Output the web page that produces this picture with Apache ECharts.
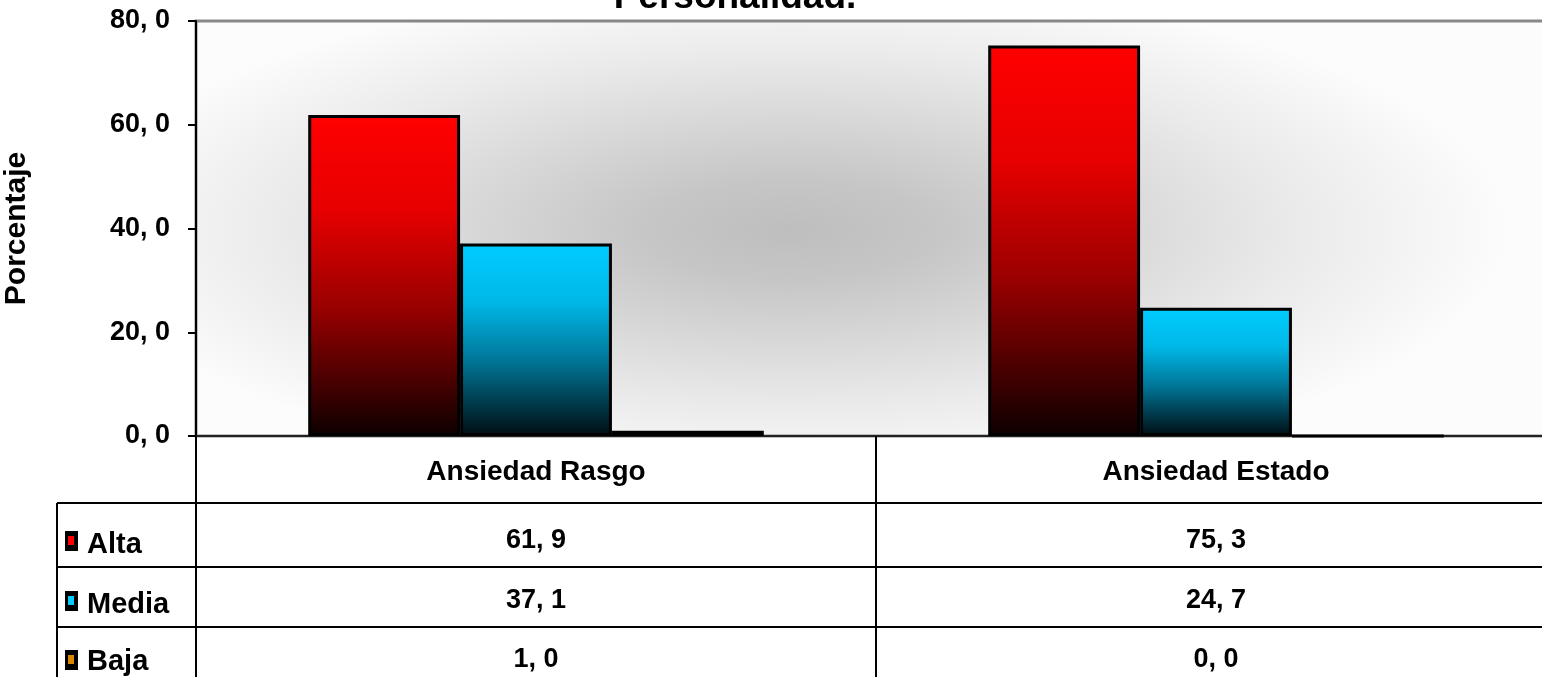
<!DOCTYPE html>
<html><head><meta charset="utf-8">
<script src="https://cdn.jsdelivr.net/npm/echarts@6/dist/echarts.min.js"></script>
<style>html,body{margin:0;padding:0;background:#fff}#c{width:1542px;height:677px}</style>
</head><body><div id="c"></div>
<script>
// ---- data ----
const titleText = 'Personalidad.';
const yAxisTitle = 'Porcentaje';
const categories = ['Ansiedad Rasgo', 'Ansiedad Estado'];
const seriesNames = ['Alta', 'Media', 'Baja'];
const alta = [61.9, 75.3];
const media = [37.1, 24.7];
const baja = [1.0, 0.0];
const yMin = 0, yMax = 80, yStep = 20;

// ---- layout / style ----
const FONT = "'Liberation Sans', Arial, sans-serif";
const GL = 196, GT = 21, GH = 415, GW = 1360;
const GB = GT + GH;
const rowOffsets = [67, 131, 191];
const rowMargins = [38, 34, 33];
const rowLabelY = [545, 605, 662];
const keyColors = ['#ff0000', '#00ccff', '#d98600'];
const seriesData = [alta, media, baja];

function fmt(v) { return v.toFixed(1).replace('.', ', '); }
function grad(stops) {
  return { type: 'linear', x: 0, y: 0, x2: 0, y2: 1,
    colorStops: stops.map(s => ({ offset: s[0], color: s[1] })) };
}
const fills = [
  grad([[0, '#ff0000'], [0.3, '#e60000'], [0.6, '#990000'], [1, '#0d0000']]),
  grad([[0, '#00ccff'], [0.3, '#00b8e8'], [0.6, '#00789a'], [1, '#000d12']]),
  grad([[0, '#ff9a00'], [0.5, '#a05a00'], [1, '#100800']])
];

const chart = echarts.init(document.getElementById('c'), null, { renderer: 'canvas' });

// background radial shading (elliptical via scaled rect)
const rx = 720, ry = 250, cx = 790, cy = 230;
const s = ry / rx;
const localW = 1542 - GL, localH = GH / s;
const minSide = Math.min(localW, localH);

const graphics = [
  { type: 'rect', x: GL, y: GT, scaleX: 1, scaleY: s, z: -5, silent: true,
    shape: { x: 0, y: 0, width: localW, height: localH },
    style: { fill: { type: 'radial', x: (cx - GL) / localW, y: (cy - GT) / GH, r: rx / minSide,
      colorStops: [
        { offset: 0, color: '#bebebe' }, { offset: 0.2, color: '#c6c6c6' },
        { offset: 0.45, color: '#d8d8d8' }, { offset: 0.7, color: '#eaeaea' },
        { offset: 1, color: '#fcfcfc' }] } } },
  { type: 'text', x: 735, y: 16, silent: true,
    style: { text: titleText, align: 'center', verticalAlign: 'bottom',
      font: "bold 37px " + FONT, fill: '#000' } },
  { type: 'line', silent: true, shape: { x1: 57, y1: GB + rowOffsets[0], x2: 57, y2: 677 },
    style: { stroke: '#000', lineWidth: 2 } }
];
seriesNames.forEach((name, i) => {
  const ly = GB + rowOffsets[i];
  graphics.push({ type: 'line', silent: true, shape: { x1: 57, y1: ly, x2: GL, y2: ly },
    style: { stroke: '#000', lineWidth: 2 } });
  const ky = ly + rowMargins[i];
  graphics.push({ type: 'rect', silent: true, shape: { x: 65, y: ky - 10, width: 13, height: 20 },
    style: { fill: '#000' } });
  graphics.push({ type: 'rect', silent: true, shape: { x: 68, y: ky - 5, width: 6, height: 9 },
    style: { fill: keyColors[i] } });
  graphics.push({ type: 'text', silent: true, x: 87, y: rowLabelY[i],
    style: { text: name, align: 'left', verticalAlign: 'middle', font: "bold 29px " + FONT, fill: '#000' } });
});

const labelStyle = { color: '#000', fontFamily: FONT, fontWeight: 'bold', fontSize: 27 };

const xAxes = [{
  type: 'category', data: categories, gridIndex: 0, position: 'bottom', offset: 0,
  axisLine: { show: true, lineStyle: { color: '#222', width: 2 } },
  axisTick: { show: true, interval: 0, length: 250, lineStyle: { color: '#000', width: 2 } },
  axisLabel: Object.assign({}, labelStyle, { interval: 0, margin: 36, verticalAlign: 'middle', fontSize: 28 }),
  splitLine: { show: false }
}];
seriesData.forEach((arr, i) => {
  xAxes.push({
    type: 'category', data: categories, gridIndex: 0, position: 'bottom', offset: rowOffsets[i],
    axisLine: { show: true, onZero: false, lineStyle: { color: '#000', width: 2 } },
    axisTick: { show: false },
    axisLabel: Object.assign({ interval: 0, margin: rowMargins[i], verticalAlign: 'middle',
      formatter: (v, idx) => fmt(arr[idx]) }, labelStyle),
    splitLine: { show: false }
  });
});

chart.setOption({
  animation: false,
  backgroundColor: '#fff',
  grid: { left: GL, top: GT, width: GW, height: GH, containLabel: false, outerBoundsMode: 'none',
    show: true, backgroundColor: 'transparent', borderColor: '#888', borderWidth: 3 },
  graphic: graphics,
  xAxis: xAxes,
  yAxis: {
    type: 'value', min: yMin, max: yMax, interval: yStep,
    name: yAxisTitle, nameLocation: 'middle', nameRotate: 90, nameGap: 164,
    nameTextStyle: { color: '#000', fontFamily: FONT, fontWeight: 'bold', fontSize: 30 },
    axisLine: { show: true, lineStyle: { color: '#000', width: 2 } },
    axisTick: { show: true, length: 8, lineStyle: { color: '#000', width: 2 } },
    axisLabel: Object.assign({ margin: 26, formatter: v => fmt(v) }, labelStyle),
    splitLine: { show: false }
  },
  series: seriesNames.map((name, i) => ({
    name, type: 'bar', xAxisIndex: 0, data: seriesData[i],
    barGap: '0%', barCategoryGap: '33%',
    itemStyle: { color: fills[i], borderColor: '#000', borderWidth: 3 },
    emphasis: { disabled: true }
  }))
});
</script></body></html>
